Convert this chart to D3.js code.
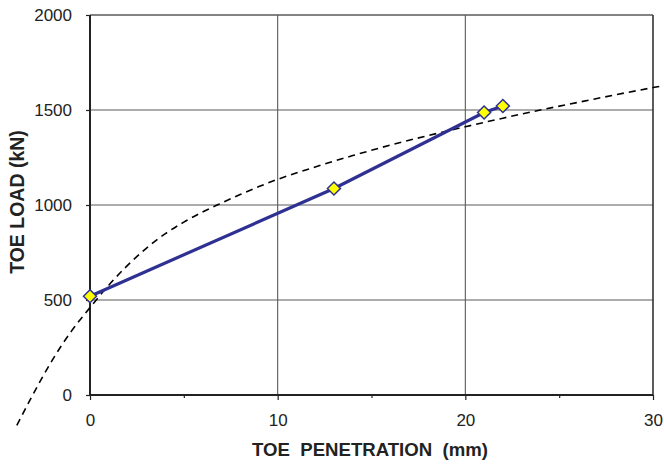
<!DOCTYPE html>
<html>
<head>
<meta charset="utf-8">
<script src="https://cdn.jsdelivr.net/npm/d3@7"></script>
<style>
  html, body { margin: 0; padding: 0; background: #fff; }
  svg { display: block; }
</style>
</head>
<body>
<svg id="chart" width="664" height="464"></svg>
<script>
// Measured data (toe penetration mm, toe load kN)
const measuredX = [0, 13, 21, 22];
const measuredY = [520, 1087, 1487, 1521];

// Dashed fitted curve
const fitX = [-3.9, -3.0, -2.0, -1.0, 0, 1, 2, 3, 4, 5, 6, 7, 8, 9, 10, 12, 14, 16, 18, 20, 22, 24, 26, 28, 30, 30.5];
const fitY = [-160, 10, 185, 335, 460, 578, 682, 772, 848, 910, 963, 1010, 1055, 1097, 1135, 1200, 1260, 1315, 1365, 1412, 1457, 1500, 1540, 1580, 1618, 1627];

const xTicks = [0, 10, 20, 30];
const xMinorTicks = [5, 15, 25];
const yTicks = [0, 500, 1000, 1500, 2000];

const xTitle = "TOE\u00a0\u00a0PENETRATION\u00a0\u00a0(mm)";
const yTitle = "TOE LOAD (kN)";

const svg = d3.select("#chart");
const x = d3.scaleLinear().domain([0, 30]).range([90, 653]);
const y = d3.scaleLinear().domain([0, 2000]).range([395, 15]);

const gridColor = "#5a5a5a";

// horizontal grid lines
svg.append("g").selectAll("line").data(yTicks.filter(d => d > 0)).join("line")
  .attr("x1", x(0)).attr("x2", x(30))
  .attr("y1", d => y(d)).attr("y2", d => y(d))
  .attr("stroke", gridColor).attr("stroke-width", d => d === 2000 ? 1.4 : 1.1);

// vertical grid lines
svg.append("g").selectAll("line").data(xTicks.filter(d => d > 0)).join("line")
  .attr("x1", d => x(d)).attr("x2", d => x(d))
  .attr("y1", y(0)).attr("y2", y(2000))
  .attr("stroke", d => d === 30 ? "#333" : gridColor).attr("stroke-width", d => d === 30 ? 1.6 : 1.1);

// axes via d3 axis generators
const xAxis = svg.append("g").attr("transform", `translate(0,${y(0)})`)
  .call(d3.axisBottom(x).tickValues(xTicks).tickSize(5).tickPadding(14).tickFormat(d3.format("d")));
xAxis.select(".domain").remove();
xAxis.selectAll(".tick line").attr("stroke", "#222").attr("stroke-width", 1.2);
xAxis.selectAll(".tick text").attr("font-family", "Liberation Sans, Arial, sans-serif")
  .attr("font-size", 17).attr("fill", "#222");

const xMinor = svg.append("g").attr("transform", `translate(0,${y(0)})`)
  .call(d3.axisBottom(x).tickValues(xMinorTicks).tickSize(3).tickFormat(""));
xMinor.select(".domain").remove();
xMinor.selectAll(".tick line").attr("stroke", "#222").attr("stroke-width", 1.2);

const yAxis = svg.append("g").attr("transform", `translate(${x(0)},0)`)
  .call(d3.axisLeft(y).tickValues(yTicks).tickSize(4).tickPadding(14).tickFormat(d3.format("d")));
yAxis.select(".domain").remove();
yAxis.selectAll(".tick line").attr("stroke", "#222").attr("stroke-width", 1.2);
yAxis.selectAll(".tick text").attr("font-family", "Liberation Sans, Arial, sans-serif")
  .attr("font-size", 17).attr("fill", "#222");

// axis lines (thick)
svg.append("line").attr("x1", x(0)).attr("x2", x(0)).attr("y1", y(2000)).attr("y2", y(0) + 1)
  .attr("stroke", "#222").attr("stroke-width", 2);
svg.append("line").attr("x1", x(0) - 1).attr("x2", x(30)).attr("y1", y(0)).attr("y2", y(0))
  .attr("stroke", "#222").attr("stroke-width", 2);

// dashed fitted curve
const fitPts = fitX.map((d, i) => [d, fitY[i]]);
svg.append("path").datum(fitPts)
  .attr("d", d3.line().x(d => x(d[0])).y(d => y(d[1])).curve(d3.curveMonotoneX))
  .attr("fill", "none").attr("stroke", "#000").attr("stroke-width", 1.6)
  .attr("stroke-dasharray", "7,5");

// measured line
const pts = measuredX.map((d, i) => [d, measuredY[i]]);
svg.append("path").datum(pts)
  .attr("d", d3.line().x(d => x(d[0])).y(d => y(d[1])))
  .attr("fill", "none").attr("stroke", "#2e3192").attr("stroke-width", 3.2);

// diamond markers
svg.append("g").selectAll("path").data(pts).join("path")
  .attr("transform", d => `translate(${x(d[0])},${y(d[1])})`)
  .attr("d", "M0,-6.5L6.5,0L0,6.5L-6.5,0Z")
  .attr("fill", "#ffff00").attr("stroke", "#2e3192").attr("stroke-width", 1.5);

// titles
svg.append("text").attr("x", 370).attr("y", 456).attr("text-anchor", "middle")
  .attr("font-family", "Liberation Sans, Arial, sans-serif").attr("font-weight", "bold")
  .attr("font-size", 18.6).attr("fill", "#222").text(xTitle);

svg.append("text").attr("transform", "translate(23.5,202) rotate(-90)").attr("text-anchor", "middle")
  .attr("font-family", "Liberation Sans, Arial, sans-serif").attr("font-weight", "bold")
  .attr("font-size", 19.5).attr("fill", "#222").text(yTitle);
</script>
</body>
</html>
